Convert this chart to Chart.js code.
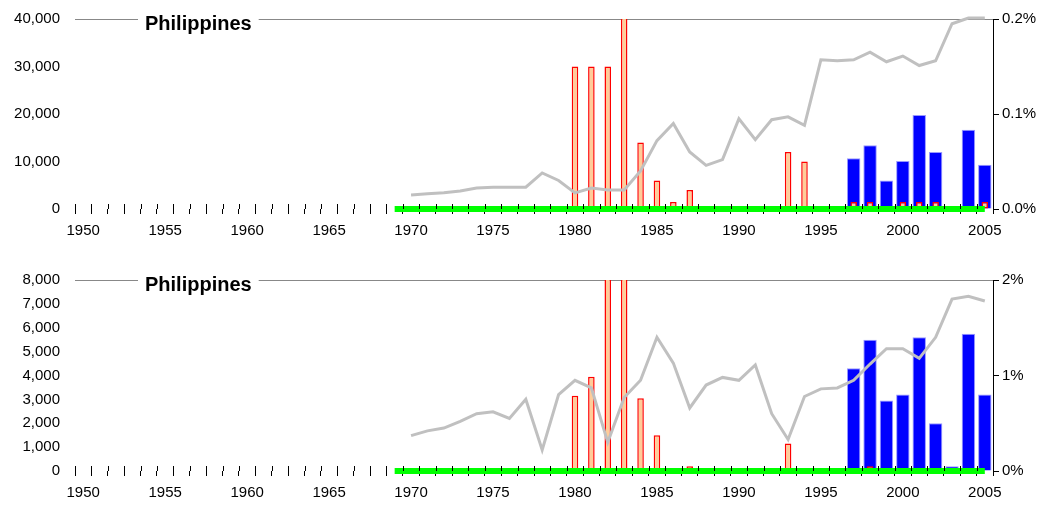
<!DOCTYPE html>
<html><head><meta charset="utf-8">
<script src="https://cdn.jsdelivr.net/npm/chart.js@4/dist/chart.umd.min.js"></script>
<style>body{margin:0;background:#fff}canvas{display:block}#top{margin-top:-5px}</style>
</head><body>
<canvas id="top" width="1049" height="259"></canvas>
<canvas id="bottom" width="1049" height="254"></canvas>
<script>
const years = [];
for (let y = 1950; y <= 2005; y++) years.push(String(y));

// top chart
const topGrey = {1970:0.0147,1971:0.016,1972:0.017,1973:0.019,1974:0.022,1975:0.023,1976:0.023,1977:0.023,1978:0.038,1979:0.03,1980:0.017,1981:0.022,1982:0.02,1983:0.02,1984:0.04,1985:0.072,1986:0.09,1987:0.06,1988:0.046,1989:0.052,1990:0.095,1991:0.073,1992:0.094,1993:0.097,1994:0.088,1995:0.157,1996:0.156,1997:0.157,1998:0.165,1999:0.155,2000:0.161,2001:0.151,2002:0.156,2003:0.195,2004:0.201,2005:0.201};
const topOrange = {1980:30000,1981:30000,1982:30000,1983:45000,1984:14000,1985:6000,1986:1500,1987:4000,1993:12000,1994:10000,1997:1500,1998:1500,2000:1500,2001:1500,2002:1500,2005:1500};
const topBlue = {1997:10700,1998:13400,1999:6000,2000:10100,2001:19800,2002:12000,2004:16700,2005:9300};

// bottom chart
const botGrey = {1970:0.37,1971:0.42,1972:0.45,1973:0.52,1974:0.6,1975:0.62,1976:0.55,1977:0.75,1978:0.22,1979:0.8,1980:0.95,1981:0.87,1982:0.3,1983:0.77,1984:0.95,1985:1.4,1986:1.13,1987:0.66,1988:0.9,1989:0.98,1990:0.95,1991:1.11,1992:0.6,1993:0.33,1994:0.78,1995:0.86,1996:0.87,1997:0.95,1998:1.12,1999:1.28,2000:1.28,2001:1.18,2002:1.4,2003:1.8,2004:1.83,2005:1.78};
const botOrange = {1980:3150,1981:3950,1982:9000,1983:9000,1984:3050,1985:1500,1986:50,1987:200,1993:1150,1994:100,1998:200};
const botBlue = {1997:4300,1998:5500,1999:2950,2000:3200,2001:5600,2002:2000,2003:200,2004:5750,2005:3200};

const greenFrom = 1969;

function series(obj) { return years.map(y => obj[y] !== undefined ? obj[y] : null); }

const titlePlugin = {
  id: 'title',
  afterDraw(chart) {
    const ctx = chart.ctx;
    ctx.save();
    ctx.font = 'bold 20px "Liberation Sans"';
    const w = ctx.measureText('Philippines').width;
    ctx.fillStyle = '#fff';
    ctx.fillRect(138, chart.chartArea.top - 10, w + 14, 20);
    ctx.fillStyle = '#000';
    ctx.textBaseline = 'middle';
    ctx.fillText('Philippines', 145, chart.chartArea.top + 5);
    // small tick marks above the x axis
    const x = chart.scales.x, b = chart.chartArea.bottom;
    ctx.strokeStyle = '#000'; ctx.lineWidth = 1;
    for (let i = 0; i <= years.length; i++) {
      const px = Math.round(x.getPixelForValue(i - 0.5)) + 0.5;
      ctx.beginPath(); ctx.moveTo(px, b - 5); ctx.lineTo(px, b); ctx.stroke();
    }
    ctx.restore();
  }
};

function makeChart(id, grey, orange, blue, leftMax, leftStep, rightMax, rightStep, rightFmt, padTop, xH) {
  const font = {family: '"Liberation Sans"', size: 15};
  new Chart(document.getElementById(id), {
    type: 'bar',
    data: {
      labels: years,
      datasets: [
        {type: 'line', data: series(grey), yAxisID: 'y2', borderColor: '#c0c0c0', borderWidth: 3, pointRadius: 0, clip: false, order: 0},
        {data: series(orange), backgroundColor: '#ffcc99', borderColor: '#ff0000', borderWidth: 1.5, borderSkipped: false, barPercentage: 0.4, categoryPercentage: 1, grouped: false, order: 1},
        {data: series(blue), backgroundColor: '#0000ff', borderColor: '#9999ff', borderWidth: 1, barPercentage: 0.82, categoryPercentage: 1, grouped: false, order: 2},
        {type: 'line', data: years.map(y => +y >= greenFrom ? 0 : null), borderColor: '#00ff00', borderWidth: 6, pointRadius: 0, clip: false, order: -1}
      ]
    },
    options: {
      responsive: false, animation: false,
      layout: {padding: {top: padTop, left: 0, right: 0}},
      plugins: {legend: {display: false}, tooltip: {enabled: false}},
      scales: {
        x: {
          offset: true,
          grid: {offset: true, drawOnChartArea: false, tickLength: 5, color: '#000'},
          border: {display: false},
          ticks: {autoSkip: false, maxRotation: 0, color: '#000', font, padding: 8,
            callback: (v, i) => (+years[i]) % 5 === 0 ? years[i] : ''},
          afterFit: s => { s.height = xH; }
        },
        y: {
          min: 0, max: leftMax,
          ticks: {stepSize: leftStep, color: '#000', font, padding: 15, callback: v => v.toLocaleString('en-US')},
          grid: {drawTicks: false, color: c => c.tick && c.tick.value === leftMax ? '#888' : 'rgba(0,0,0,0)'},
          border: {display: false},
          afterFit: s => { s.width = 75; }
        },
        y2: {
          position: 'right', min: 0, max: rightMax,
          ticks: {stepSize: rightStep, color: '#000', font, callback: rightFmt},
          grid: {drawOnChartArea: false, tickLength: 6, color: '#000'},
          border: {display: true, color: '#000'},
          afterFit: s => { s.width = 56; }
        }
      }
    },
    plugins: [titlePlugin]
  });
}

makeChart('top', topGrey, topOrange, topBlue, 40000, 10000, 0.2, 0.1, v => v.toFixed(1) + '%', 14, 45);
makeChart('bottom', botGrey, botOrange, botBlue, 8000, 1000, 2, 1, v => Math.round(v) + '%', 26, 37);
</script>
</body></html>
